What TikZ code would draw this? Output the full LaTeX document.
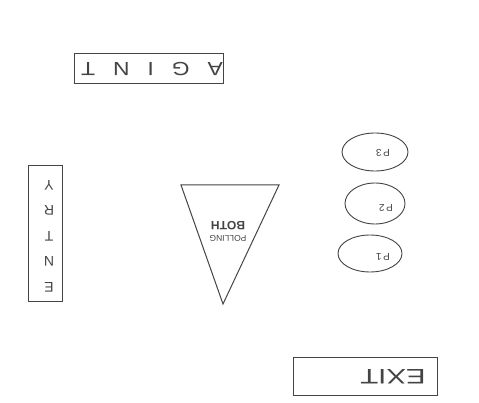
\documentclass[tikz,border=0pt]{standalone}
\usepackage{fontspec}
\setmainfont{Liberation Sans}
\usetikzlibrary{shapes.geometric}
\definecolor{ink}{HTML}{444444}
\begin{document}
\begin{tikzpicture}[x=1pt,y=-1pt,
  every node/.style={text=ink},
  box/.style={draw=ink, line width=1pt, rectangle, inner sep=0pt},
  oval/.style={draw=ink, line width=0.9pt, ellipse, inner sep=0pt},
  flip/.style={rotate=180, inner sep=0pt}]
\useasboundingbox[fill=white] (0,0) rectangle (479,403);
% AGINT
\node[box, minimum width=149pt, minimum height=30pt] (agint) at (148.5,69) {};
\node[flip] (agintt) at (152,69) {\fontsize{19}{19}\selectfont\scalebox{1.2}[1]{A\hspace{15pt}G\hspace{15pt}I\hspace{15pt}N\hspace{15pt}T}};
% ENTRY
\node[box, minimum width=34pt, minimum height=136pt] (entry) at (45.5,233.5) {};
\node[flip, align=center, font=\fontsize{14}{25.5}\selectfont] (entryt) at (49,236) {E\\N\\T\\R\\Y};
% polling booth
\coordinate (t1) at (181,185);
\coordinate (t2) at (279,185);
\coordinate (t3) at (223,304);
\draw[ink, line width=1pt] (t1) -- (t2) -- (t3) -- cycle;
\node[flip, align=center, font=\fontsize{8.5}{14}\selectfont] (booth) at (228,231) {POLLING\\{\fontsize{12}{14}\selectfont\bfseries BOTH}};
% P ellipses
\node[oval, minimum width=66pt, minimum height=38pt] (p3) at (375,152) {};
\node[oval, minimum width=60pt, minimum height=41pt] (p2) at (375,203.5) {};
\node[oval, minimum width=64pt, minimum height=37pt] (p1) at (370,253.5) {};
\node[flip] (p3t) at (383,153) {\fontsize{10}{10}\selectfont P\,3};
\node[flip] (p2t) at (386,208) {\fontsize{10}{10}\selectfont P\,2};
\node[flip] (p1t) at (383,257) {\fontsize{10}{10}\selectfont P\,1};
% EXIT
\node[box, minimum width=144pt, minimum height=38pt] (exit) at (365,376) {};
\node[flip] (exitt) at (393,377) {\fontsize{21}{21}\selectfont\scalebox{1.4}[1]{EXIT}};
\end{tikzpicture}
\end{document}
